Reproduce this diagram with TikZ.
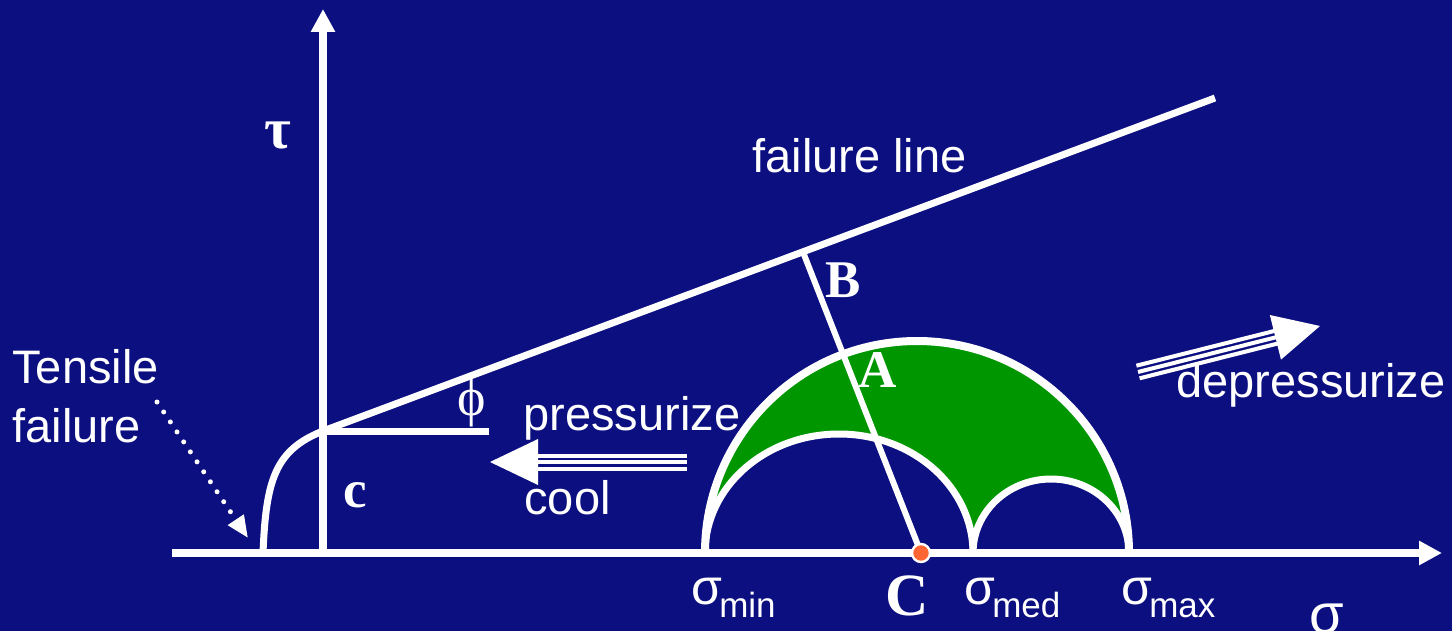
\documentclass[tikz,border=0pt]{standalone}
\usepackage{fontspec}
\setmainfont{Liberation Sans}
\newfontfamily\serifft{Liberation Serif}
\usetikzlibrary{arrows.meta}
\definecolor{bg}{RGB}{12,15,128}
\definecolor{fillg}{RGB}{0,150,0}
\definecolor{dotc}{RGB}{255,102,51}
\newcommand\sig[1]{{\fontsize{25}{28}\selectfont σ}\kern-1.5pt\raisebox{-6.5pt}{\fontsize{17.5}{20}\selectfont #1}}
\begin{document}
\begin{tikzpicture}[x=0.5pt,y=-0.5pt,
  wline/.style={white, line width=3.5pt},
  axis/.style={white, line width=4pt, -{Triangle[length=11.5pt,width=11.5pt]}},
  lbl/.style={text=white, inner sep=0pt, font=\fontsize{23.5}{29.5}\selectfont},
  boldl/.style={text=white, inner sep=0pt, font=\serifft\bfseries\fontsize{26.5}{30}\selectfont},
  greek/.style={text=white, inner sep=0pt, font=\serifft\fontsize{27}{30}\selectfont},
  stripe/.style={white, line width=2pt}]
\useasboundingbox (0,0) rectangle (1452,631);
\clip (0,0) rectangle (1452,631);
\fill[bg] (0,0) rectangle (1452,631);

% coordinates
\coordinate (O) at (323,553);
\coordinate (cpt) at (323,431);
\coordinate (fend) at (1215,98);
\coordinate (hend) at (489,431);
\coordinate (tstart) at (263,553);
\coordinate (Cdot) at (921,553);
\coordinate (Bpt) at (803,252);
\coordinate (xs) at (172,553);
\coordinate (xe) at (1442,553);
\coordinate (ye) at (323,9);
\coordinate (ts) at (157,402);
\coordinate (te) at (248,538);

% Mohr circles
\fill[fillg] (705,553) arc[start angle=180,end angle=360,radius=212] -- cycle;
\fill[bg] (705,553) arc[start angle=180,end angle=360,x radius=134,y radius=119] -- cycle;
\fill[bg] (973,553) arc[start angle=180,end angle=360,x radius=78,y radius=74] -- cycle;
\draw[wline,line width=4pt] (705,553) arc[start angle=180,end angle=360,radius=212];
\draw[wline] (705,553) arc[start angle=180,end angle=360,x radius=134,y radius=119];
\draw[wline] (973,553) arc[start angle=180,end angle=360,x radius=78,y radius=74];

% failure envelope
\draw[wline] (cpt) -- (fend);
\draw[wline] (cpt) -- (hend);
\draw[wline] (tstart) .. controls (266,480) and (275,450) .. (cpt);
\draw[wline,line width=3pt] (Cdot) -- (Bpt);

% axes
\draw[axis] (xs) -- (xe);
\draw[axis] (O) -- (ye);

\node[circle, fill=dotc, draw=white, line width=1.2pt, minimum size=9pt, inner sep=0pt] (C) at (Cdot) {};

% tensile failure dotted arrow
\draw[white, line width=2.5pt, line cap=round, dash pattern=on 0pt off 6pt,
      -{Triangle[length=11pt,width=9pt]}] (ts) -- (te);

% pressurize / cool arrow
\fill[white] (490,462) -- (538,439) -- (538,485) -- cycle;
\foreach \o in {-6.5,0,6.5} \draw[stripe] (536,{462+\o}) -- (687,{462+\o});

% depressurize arrow
\fill[white] (1320,326) -- (1269.8,315) -- (1281,359.6) -- cycle;
\foreach \o in {-6.5,0,6.5} \draw[stripe] ({1138+0.245*\o},{372+0.97*\o}) -- ({1277+0.245*\o},{337+0.97*\o});

% labels
\node[lbl, anchor=base west] (fl) at (752,172) {failure line};
\node[lbl, anchor=base west] (pr) at (523,430) {pressurize};
\node[lbl, anchor=base west] (co) at (524,514) {cool};
\node[lbl, anchor=base west] (dp) at (1176,397) {depressurize};
\node[lbl, anchor=base west] (t1) at (12,383) {Tensile};
\node[lbl, anchor=base west] (t2) at (12,442) {failure};

\node[greek, font=\serifft\bfseries\fontsize{29}{30}\selectfont] (tau) at (278,135) {τ};
\node[greek] (phi) at (472,403) {ϕ};
\node[boldl] (lB) at (843,280) {B};
\node[boldl] (lA) at (878,370) {A};
\node[boldl] (lc) at (355,495) {c};
\node[boldl, font=\serifft\bfseries\fontsize{30}{32}\selectfont] (lC) at (907,596) {C};

\node[lbl, anchor=base west] (smin) at (691,604) {\sig{min}};
\node[lbl, anchor=base west] (smed) at (964,604) {\sig{med}};
\node[lbl, anchor=base west] (smax) at (1121,604) {\sig{max}};
\node[text=white, inner sep=0pt, font=\fontsize{28}{30}\selectfont] (sig) at (1327,619) {σ};
\end{tikzpicture}
\end{document}
